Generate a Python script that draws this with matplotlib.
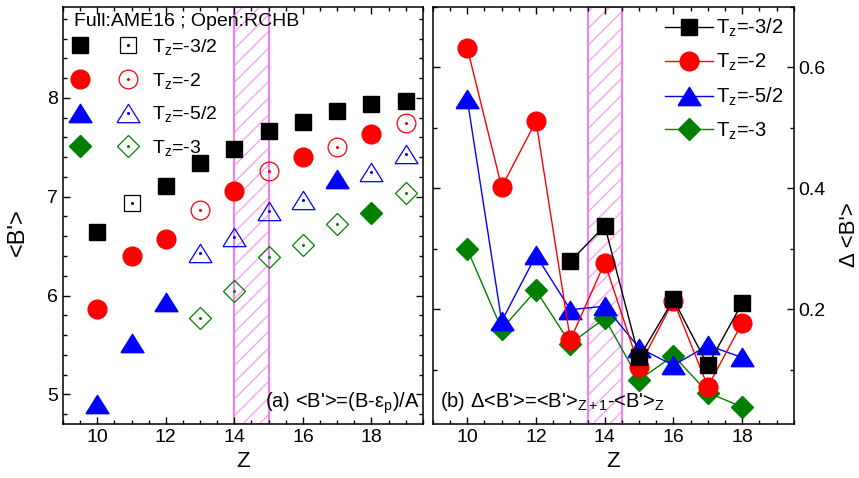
import matplotlib
matplotlib.use("Agg")
import matplotlib.pyplot as plt
from matplotlib.ticker import MultipleLocator
from matplotlib.lines import Line2D
from matplotlib.legend_handler import HandlerTuple

plt.rcParams['font.family'] = ['Liberation Sans', 'DejaVu Sans']
plt.rcParams['mathtext.fontset'] = 'custom'
plt.rcParams['mathtext.rm'] = 'Liberation Sans'
plt.rcParams['mathtext.it'] = 'Liberation Sans:italic'
plt.rcParams['hatch.linewidth'] = 1.0

# ---- panel (a): <B'> vs Z  (full = AME16, open = RCHB)
sq_full_z = [10, 12, 13, 14, 15, 16, 17, 18, 19]
sq_full_b = [6.64, 7.11, 7.34, 7.48, 7.66, 7.76, 7.87, 7.94, 7.97]
sq_open_z = [11]
sq_open_b = [6.94]

ci_full_z = [10, 11, 12, 14, 16, 18]
ci_full_b = [5.86, 6.40, 6.57, 7.06, 7.40, 7.63]
ci_open_z = [13, 15, 17, 19]
ci_open_b = [6.87, 7.26, 7.50, 7.75]

tr_full_z = [10, 11, 12, 17]
tr_full_b = [4.90, 5.52, 5.93, 7.18]
tr_open_z = [13, 14, 15, 16, 18, 19]
tr_open_b = [6.43, 6.59, 6.86, 6.97, 7.25, 7.43]

di_full_z = [18]
di_full_b = [6.83]
di_open_z = [13, 14, 15, 16, 17, 19]
di_open_b = [5.77, 6.05, 6.39, 6.51, 6.72, 7.04]

# ---- panel (b): Delta<B'> = <B'>_{Z+1} - <B'>_Z
dsq_z = [13, 14, 15, 16, 17, 18]
dsq_b = [0.279, 0.338, 0.120, 0.216, 0.107, 0.210]
d_z = [10, 11, 12, 13, 14, 15, 16, 17, 18]
dci_b = [0.632, 0.402, 0.511, 0.149, 0.277, 0.105, 0.214, 0.072, 0.177]
dtr_b = [0.547, 0.180, 0.289, 0.199, 0.205, 0.136, 0.107, 0.140, 0.120]
ddi_b = [0.299, 0.167, 0.231, 0.143, 0.185, 0.083, 0.123, 0.062, 0.038]

labels = ["T$_{\\mathregular{z}}$=-3/2", "T$_{\\mathregular{z}}$=-2",
          "T$_{\\mathregular{z}}$=-5/2", "T$_{\\mathregular{z}}$=-3"]
colors = ['black', 'red', 'blue', 'green']
tri = [(-1, -0.8), (1, -0.8), (0, 0.8), (-1, -0.8)]
markers = ['s', 'o', tri, 'D']
msizes = [12, 13.5, 16.5, 11.5]

bandA = (14, 15)
bandB = (13.5, 14.5)
hatch_col = '#f4a6f4'
edge_col = '#f27ef2'

fig = plt.figure(figsize=(8.59, 4.78), dpi=100)
ax = fig.add_axes([0.0733, 0.113, 0.419, 0.8725])
ax2 = fig.add_axes([0.504, 0.113, 0.42, 0.8725])


def band(a, lo, hi):
    a.axvspan(lo, hi, facecolor='none', edgecolor=hatch_col, hatch='//', lw=0, zorder=1)
    a.axvspan(lo, hi, facecolor='none', edgecolor=edge_col, lw=1.5, zorder=1)


def full(a, z, b, i):
    a.plot(z, b, ls='none', marker=markers[i], ms=msizes[i], color=colors[i], zorder=3)


def hollow(a, z, b, i):
    a.plot(z, b, ls='none', marker=markers[i], ms=msizes[i], mfc='none',
           mec=colors[i], mew=0.9, zorder=3)
    a.plot(z, b, ls='none', marker='o', ms=1.2, color=colors[i], zorder=3)


band(ax, *bandA)
full(ax, sq_full_z, sq_full_b, 0)
hollow(ax, sq_open_z, sq_open_b, 0)
full(ax, ci_full_z, ci_full_b, 1)
hollow(ax, ci_open_z, ci_open_b, 1)
full(ax, tr_full_z, tr_full_b, 2)
hollow(ax, tr_open_z, tr_open_b, 2)
full(ax, di_full_z, di_full_b, 3)
hollow(ax, di_open_z, di_open_b, 3)

# legend with full + open symbol pairs
handles = []
hmap = {}
for i in range(4):
    hf = Line2D([], [], ls='none', marker=markers[i], ms=msizes[i], color=colors[i])
    ho = Line2D([], [], ls='none', marker=markers[i], ms=msizes[i], mfc='none',
                mec=colors[i], mew=0.9)
    hd = Line2D([], [], ls='none', marker='o', ms=1.2, color=colors[i])
    h = (hf, (ho, hd))
    handles.append(h)
    hmap[h] = HandlerTuple(ndivide=None, pad=1.45)
ax.legend(handles, labels, handler_map=hmap, loc='upper left',
          bbox_to_anchor=(0.0, 0.944), frameon=False, fontsize=14,
          handlelength=3.5, handletextpad=0.75, labelspacing=0.7,
          borderpad=0.15, borderaxespad=0.2)
ax.text(0.03, 0.966, 'Full:AME16 ; Open:RCHB', transform=ax.transAxes,
        ha='left', va='center', fontsize=14)

ax.text(0.99, 0.05, "(a) <B'>=(B-ε$_{\\mathregular{p}}$)/A", transform=ax.transAxes,
        ha='right', va='center', fontsize=14.5)

ax.set_xlim(9, 19.5)
ax.set_ylim(4.7, 8.92)
ax.xaxis.set_major_locator(MultipleLocator(2))
ax.xaxis.set_minor_locator(MultipleLocator(0.5))
ax.yaxis.set_major_locator(MultipleLocator(1))
ax.yaxis.set_minor_locator(MultipleLocator(0.2))
ax.set_xlabel('Z', fontsize=16)
ax.set_ylabel("<B'>", fontsize=17)
ax.yaxis.set_label_coords(-0.094, 0.46)

# ---- right panel
band(ax2, *bandB)
ax2.plot(d_z, ddi_b, color=colors[3], marker=markers[3], ms=msizes[3], lw=1, zorder=3)
ax2.plot(d_z, dtr_b, color=colors[2], marker=markers[2], ms=msizes[2], lw=1, zorder=4)
ax2.plot(d_z, dci_b, color=colors[1], marker=markers[1], ms=msizes[1], lw=1, zorder=5)
ax2.plot(dsq_z, dsq_b, color=colors[0], marker=markers[0], ms=msizes[0], lw=1, zorder=6)

hB = [Line2D([], [], color=colors[i], marker=markers[i], ms=msizes[i], lw=1) for i in range(4)]
ax2.legend(hB, labels, loc='upper right', frameon=False, fontsize=14.5,
           handlelength=2.4, handletextpad=0.15, labelspacing=0.62,
           borderpad=0.2, borderaxespad=0.3)

ax2.text(0.02, 0.053, "(b) Δ<B'>=<B'>$_{\\mathregular{Z+1}}$-<B'>$_{\\mathregular{Z}}$",
         transform=ax2.transAxes, ha='left', va='center', fontsize=14.5)

ax2.set_xlim(9, 19.5)
ax2.set_ylim(0.01, 0.70)
ax2.xaxis.set_major_locator(MultipleLocator(2))
ax2.xaxis.set_minor_locator(MultipleLocator(0.5))
ax2.yaxis.set_major_locator(MultipleLocator(0.2))
ax2.yaxis.set_minor_locator(MultipleLocator(0.1))
ax2.set_xlabel('Z', fontsize=16)
ax2.yaxis.set_label_position('right')
ax2.set_ylabel("Δ <B'>", fontsize=16)
ax2.yaxis.set_label_coords(1.125, 0.455)

for a in (ax, ax2):
    a.tick_params(which='both', direction='in', top=True, right=True, left=True,
                  labelsize=14, width=1)
    a.tick_params(which='major', length=5)
    a.tick_params(which='minor', length=3)
    for s in a.spines.values():
        s.set_linewidth(1.1)
ax2.tick_params(labelleft=False, labelright=True)

fig.savefig('out.png', dpi=100)
